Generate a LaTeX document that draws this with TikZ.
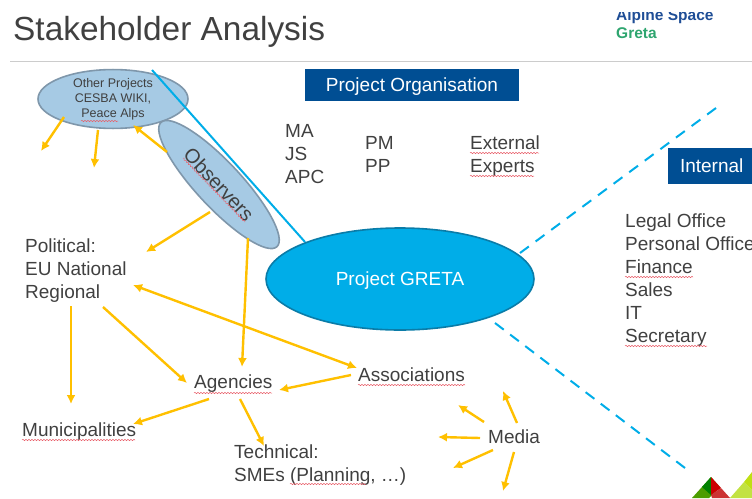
\documentclass[tikz,border=0pt]{standalone}
\usepackage{fontspec}
\setmainfont{Liberation Sans}
\usepackage{tikz}
\usetikzlibrary{arrows.meta,shapes.geometric,decorations.pathmorphing}

\definecolor{textgrey}{HTML}{404040}
\definecolor{gretablue}{HTML}{00ADE8}
\definecolor{gretaline}{HTML}{0A7CA8}
\definecolor{paleblue}{HTML}{A6CAE4}
\definecolor{paleline}{HTML}{7F97AB}
\definecolor{navy}{HTML}{004E93}
\definecolor{logoblue}{HTML}{1F4E96}
\definecolor{logogreen}{HTML}{2EA56F}
\definecolor{arrowyellow}{HTML}{FFC000}
\definecolor{squigred}{HTML}{E8606A}

\tikzset{
	label node/.style={font=\fontsize{19}{23}\selectfont,text=textgrey,align=left,inner sep=0pt,anchor=north west},
	other node/.style={ellipse,draw=paleline,fill=paleblue,line width=1.6pt,inner sep=0pt,minimum width=150pt,minimum height=50pt},
	band node/.style={fill=navy,text=white,font=\fontsize{19}{22}\selectfont,inner sep=0pt,text depth=0pt},
	yellow arrow/.style={draw=arrowyellow,line width=2.4pt,-{Latex[length=9pt,width=9pt]}},
	cyan line/.style={draw=gretablue,line width=2pt},
	squig/.style={draw=squigred,line width=0.5pt,decorate,decoration={snake,amplitude=0.7pt,segment length=3pt}}
}

\begin{document}
\begin{tikzpicture}[x=1pt,y=-1pt]
	\useasboundingbox (0,0) rectangle (752,498);
	\clip (0,0) rectangle (752,498);
	
	% header
	\node[anchor=west,inner sep=0pt,font=\fontsize{33.4}{36}\selectfont,text=textgrey] (title) at (13,32) {Stakeholder Analysis};
	\node[anchor=west,inner sep=0pt,font=\fontsize{15.5}{17}\selectfont\bfseries,text=logoblue] (alpine) at (616,16) {Alpine Space};
	\fill[white] (610,0) rectangle (752,12);
	\node[anchor=west,inner sep=0pt,font=\fontsize{15.5}{17}\selectfont\bfseries,text=logogreen] (greta) at (616,33) {Greta};
	\draw[black!20,line width=1pt] (10,61) -- (752,61);
	
	\node[band node,minimum width=214pt,minimum height=32pt] (organisation) at (412,85) {Project Organisation};
	\node[band node,minimum width=100pt,minimum height=36pt,anchor=west] (internal) at (668,165.5) {\hspace{-13pt}Internal};
	
	% main nodes
	\node[other node,font=\fontsize{12.5}{15}\selectfont,text=textgrey,align=center] (other) at (113,99) {Other Projects\\CESBA WIKI,\\Peace Alps};
	\node[other node,minimum width=170pt,minimum height=45pt,rotate=-47,font=\fontsize{20}{22}\selectfont,text=textgrey] (observers) at (219,184.5) {Observers};
	\coordinate (c1) at (152,70);
	\coordinate (c2) at (305,242);
	\draw[cyan line] (c1) -- (c2);
	\node[ellipse,draw=gretaline,fill=gretablue,line width=1.6pt,inner sep=0pt,text depth=0pt,minimum width=268pt,minimum height=102pt,text=white,font=\fontsize{19}{22}\selectfont] (project) at (400,279) {Project GRETA};
	
	% text blocks
	\node[label node] (staff) at (285,124) {MA\\JS\\APC};
	\node[label node] (pm) at (365,136) {PM\\PP};
	\node[label node] (experts) at (470,136) {External\\Experts};
	\node[label node] (office) at (625,214) {Legal Office\\Personal Office\\Finance\\Sales\\IT\\Secretary};
	\node[label node] (political) at (25,239) {Political:\\EU National\\Regional};
	\node[label node,anchor=west] (agencies) at (194,384) {Agencies};
	\node[label node,anchor=west] (associations) at (358,375) {Associations};
	\node[label node,anchor=west] (municipalities) at (22,432) {Municipalities};
	\node[label node] (technical) at (234,445) {Technical:\\SMEs (Planning, …)};
	\node[label node,anchor=west] (media) at (488,437) {Media};
	
	% free ends of the arrows
	\coordinate (o1) at (64,117);
	\coordinate (o2) at (41,151);
	\coordinate (o3) at (98,130);
	\coordinate (o4) at (94,168);
	\coordinate (o5) at (167,152);
	\coordinate (o6) at (133,125);
	\coordinate (o7) at (210,212);
	\coordinate (o8) at (146,252);
	\coordinate (o9) at (248,238);
	\coordinate (o10) at (242,367);
	\coordinate (p1) at (71,306);
	\coordinate (p2) at (71,404);
	\coordinate (p3) at (103,307);
	\coordinate (p4) at (187,383);
	\coordinate (p5) at (133,285);
	\coordinate (p6) at (357,368);
	\coordinate (a1) at (351,375);
	\coordinate (a2) at (279,390);
	\coordinate (a3) at (209,399);
	\coordinate (a4) at (133,424);
	\coordinate (a5) at (240,399);
	\coordinate (a6) at (264,446);
	
	\foreach \from/\to in {o1/o2,o3/o4,o5/o6,o7/o8,o9/o10,p1/p2,p3/p4,a1/a2,a3/a4,a5/a6}
	\draw[yellow arrow] (\from) -- (\to);
	\draw[yellow arrow,{Latex[length=9pt,width=9pt]}-{Latex[length=9pt,width=9pt]}] (p5) -- (p6);
	
	% arrows round the media label
	\foreach \name/\sx/\sy/\ex/\ey in {m1/484/422/458/405,m2/480/438/438/437,m3/493/450/453/468,m4/514/452/503/491,m5/517/423/503/391}{
		\coordinate (\name s) at (\sx,\sy);
		\coordinate (\name e) at (\ex,\ey);
		\draw[yellow arrow] (\name s) -- (\name e);
	}
	
	% dashed lines
	\coordinate (d1) at (520,253);
	\coordinate (d2) at (716,108);
	\coordinate (d3) at (495,323);
	\coordinate (d4) at (685,468);
	\draw[cyan line,dash pattern=on 11pt off 8.4pt] (d1) -- (d2);
	\draw[cyan line,dash pattern=on 11pt off 8pt] (d3) -- (d4);
	
	% spelling marks
	\draw[squig] (81,121) -- (118,121);
	\draw[squig] (183,158) -- (245,222);
	\draw[squig] (470,153) -- (539,153);
	\draw[squig] (470,176) -- (534,176);
	\draw[squig] (625,277) -- (693,277);
	\draw[squig] (625,346) -- (707,346);
	\draw[squig] (194,393) -- (272,393);
	\draw[squig] (358,385) -- (465,385);
	\draw[squig] (22,440) -- (135,440);
	\draw[squig] (290,484) -- (366,484);
	
	% logo
	\fill[green!45!black!70!yellow] (692,498) -- (711,477) -- (720,487) -- (709,498) -- cycle;
	\fill[green!50!black] (702,487) -- (711,477) -- (711,495) -- cycle;
	\fill[red!80!black] (711,477) -- (721,488) -- (711,495) -- cycle;
	\fill[red!75!white!80!black] (711,495) -- (721,488) -- (730,498) -- (712,498) -- cycle;
	\fill[yellow!70!green!80!white] (730,498) -- (744,482) -- (752,490) -- (752,498) -- cycle;
	\fill[yellow!75!green] (744,482) -- (752,472) -- (752,490) -- cycle;
\end{tikzpicture}
\end{document}
